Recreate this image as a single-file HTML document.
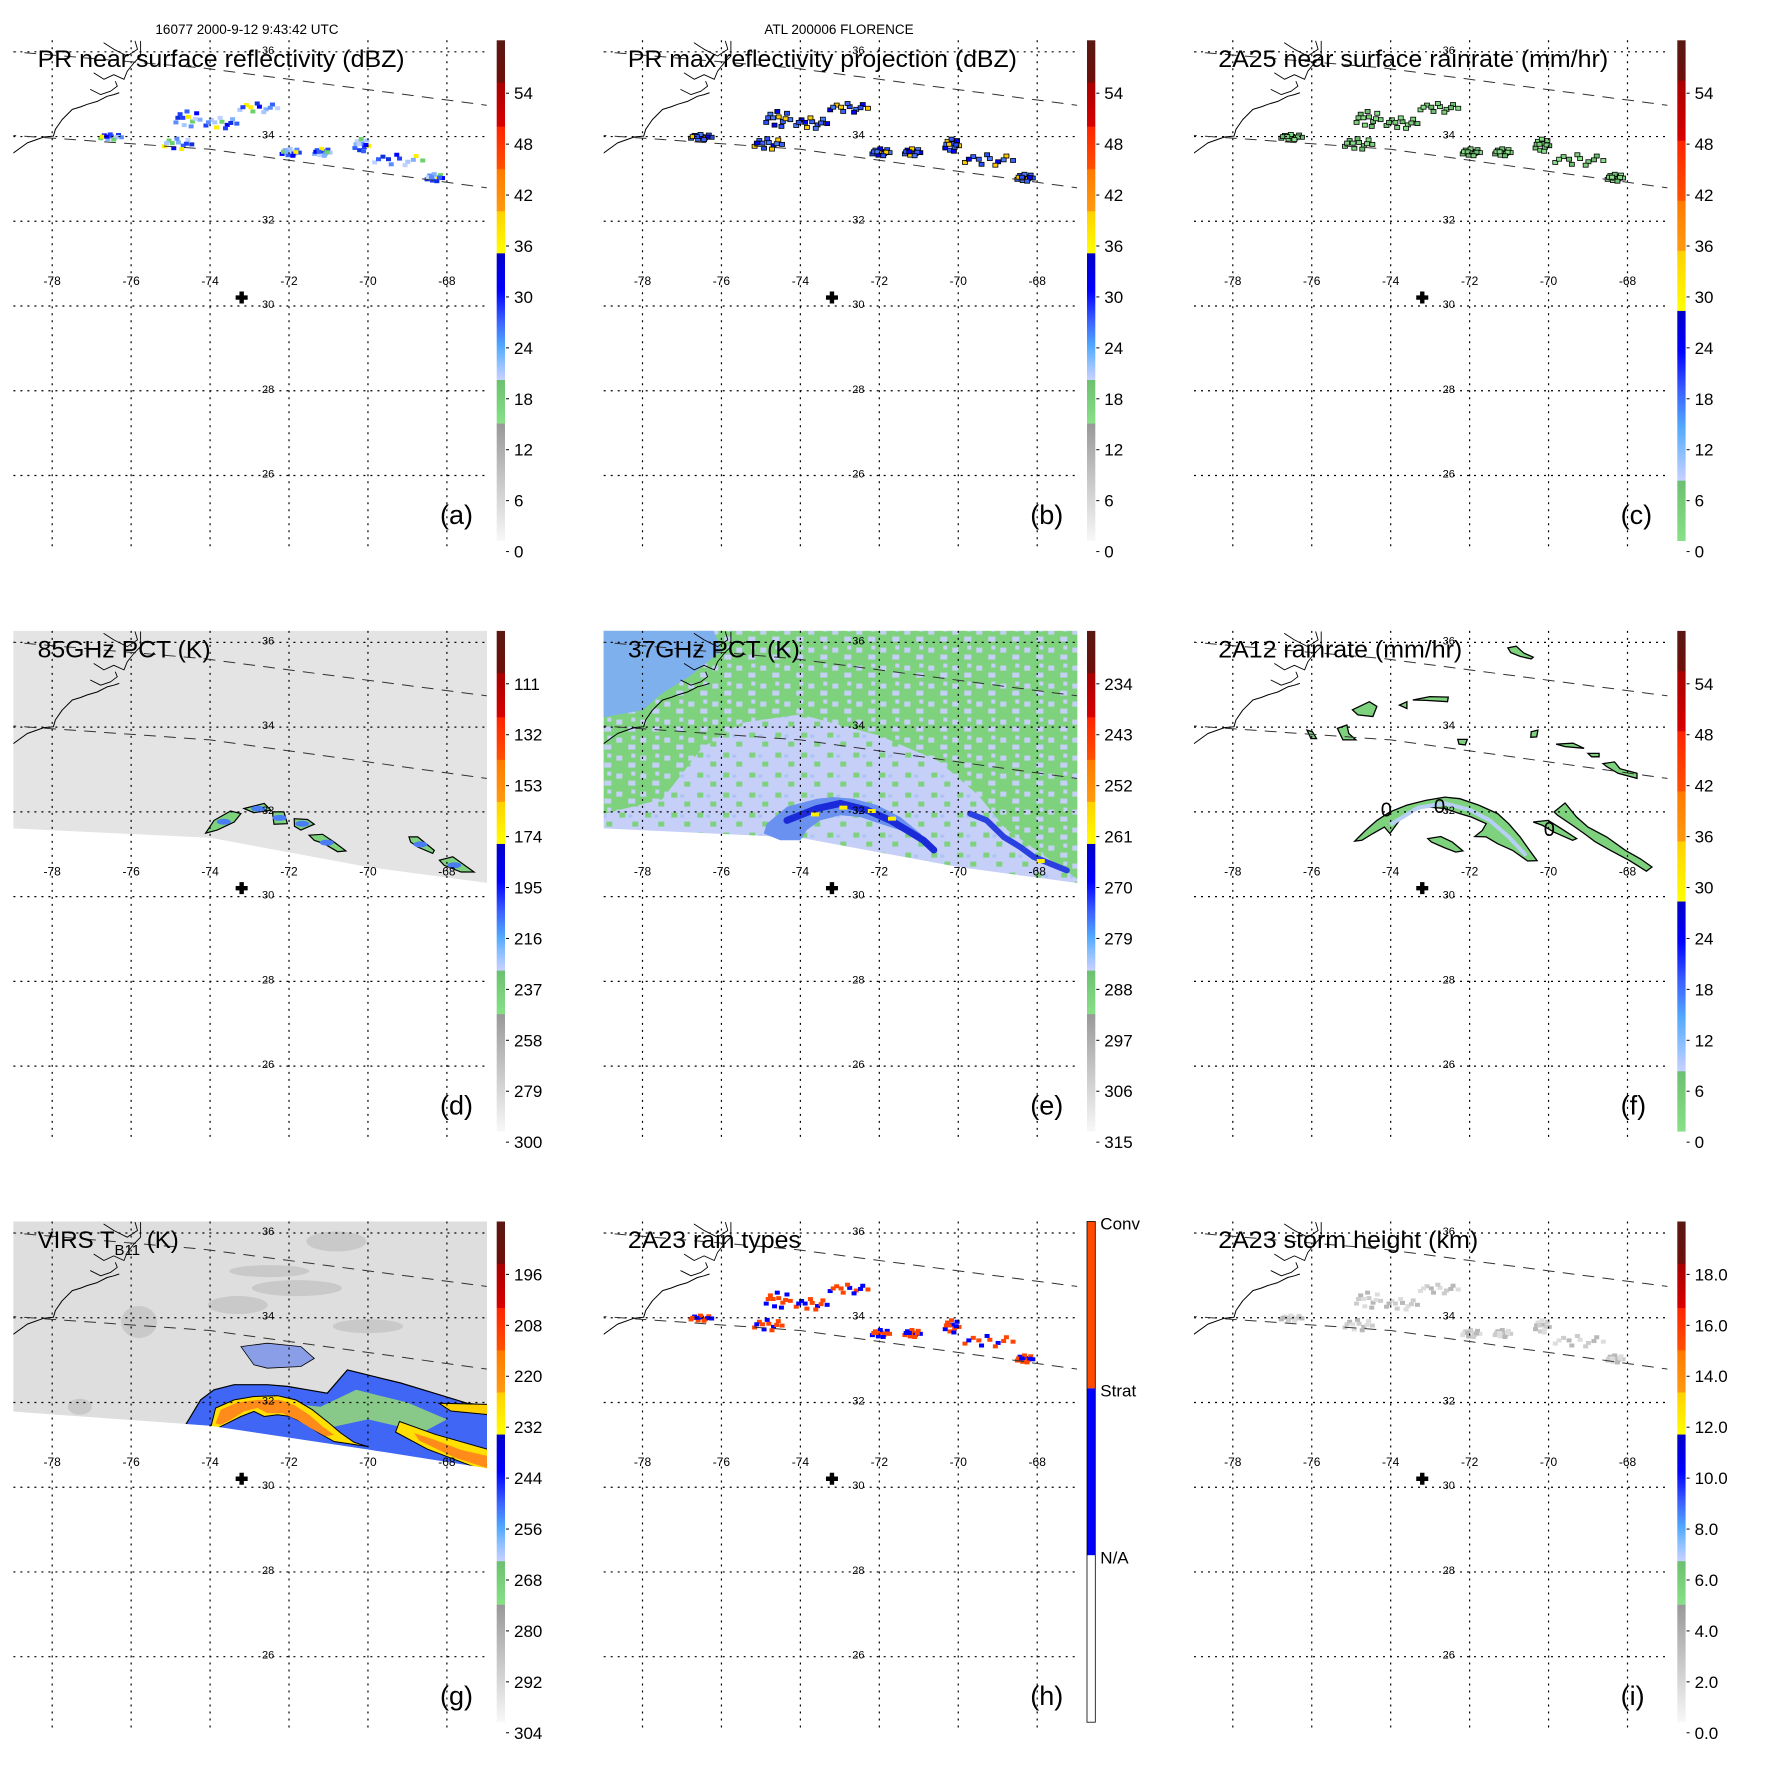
<!DOCTYPE html>
<html><head><meta charset="utf-8">
<style>
html,body{margin:0;padding:0;background:#fff;width:1771px;height:1771px;overflow:hidden;}
svg{display:block;position:absolute;left:0;top:0;font-family:"Liberation Sans",Arial,sans-serif;}
</style></head>
<body>
<svg id="fig" width="1771" height="1771" viewBox="0 0 1771 1771" xmlns="http://www.w3.org/2000/svg">
<defs>
<linearGradient id="cm-std" x1="0" y1="0" x2="0" y2="1">
<stop offset="0" stop-color="#5a1812"/><stop offset="0.084" stop-color="#6e0f0a"/>
<stop offset="0.085" stop-color="#a80000"/><stop offset="0.172" stop-color="#d80000"/>
<stop offset="0.173" stop-color="#ff2400"/><stop offset="0.257" stop-color="#ff5000"/>
<stop offset="0.258" stop-color="#ff7a00"/><stop offset="0.341" stop-color="#ff9a10"/>
<stop offset="0.342" stop-color="#ffd000"/><stop offset="0.425" stop-color="#ffff00"/>
<stop offset="0.426" stop-color="#0000c8"/><stop offset="0.5" stop-color="#0000ff"/>
<stop offset="0.56" stop-color="#3a60ff"/><stop offset="0.61" stop-color="#50a8ff"/>
<stop offset="0.645" stop-color="#90c0ff"/><stop offset="0.678" stop-color="#c8d0ff"/>
<stop offset="0.679" stop-color="#6cc070"/><stop offset="0.765" stop-color="#88e088"/>
<stop offset="0.766" stop-color="#999999"/><stop offset="1" stop-color="#f8f8f8"/>
</linearGradient>
<linearGradient id="cm-rain" x1="0" y1="0" x2="0" y2="1">
<stop offset="0" stop-color="#5a1812"/><stop offset="0.08" stop-color="#6e0f0a"/>
<stop offset="0.081" stop-color="#a80000"/><stop offset="0.2" stop-color="#d80000"/>
<stop offset="0.201" stop-color="#ff2400"/><stop offset="0.32" stop-color="#ff5000"/>
<stop offset="0.321" stop-color="#ff7a00"/><stop offset="0.42" stop-color="#ff9a10"/>
<stop offset="0.421" stop-color="#ffd000"/><stop offset="0.54" stop-color="#ffff00"/>
<stop offset="0.541" stop-color="#0000c8"/><stop offset="0.62" stop-color="#0000ff"/>
<stop offset="0.7" stop-color="#3a60ff"/><stop offset="0.77" stop-color="#50a8ff"/>
<stop offset="0.83" stop-color="#90c0ff"/><stop offset="0.879" stop-color="#c8d0ff"/>
<stop offset="0.88" stop-color="#6cc070"/><stop offset="1" stop-color="#88e088"/>
</linearGradient>
<pattern id="spk-green" width="24" height="18" patternUnits="userSpaceOnUse">
<rect width="24" height="18" fill="#7ed27e"/>
<rect x="2" y="3" width="6" height="5" fill="#c6cff7"/>
<rect x="14" y="10" width="7" height="5" fill="#c6cff7"/>
<rect x="17" y="1" width="4" height="4" fill="#c6cff7"/>
</pattern>
<pattern id="spk-lav" width="26" height="20" patternUnits="userSpaceOnUse">
<rect width="26" height="20" fill="#c6cff7"/>
<rect x="3" y="2" width="6" height="5" fill="#7ed27e"/>
<rect x="16" y="11" width="6" height="5" fill="#7ed27e"/>
<rect x="12" y="4" width="4" height="3" fill="#a9c4f5"/>
</pattern>
<clipPath id="mapclip"><rect x="13.4" y="40.3" width="473.6" height="512"/></clipPath>
</defs>
</svg>
<script>
// ---------- data ----------
const latTicks = [36, 34, 32, 30, 28, 26];
const lonTicks = [-78, -76, -74, -72, -70, -68];
const panelLetters = ['a','b','c','d','e','f','g','h','i'];
const panelTitles = ['PR near surface reflectivity (dBZ)','PR max reflectivity projection (dBZ)','2A25 near surface rainrate (mm/hr)','85GHz PCT (K)','37GHz PCT (K)','2A12 rainrate (mm/hr)','VIRS T','2A23 rain types','2A23 storm height (km)'];
const titleWidths = [367, 389, 390, 173, 172, 244, 145, 173, 260];
const cbarLabels = [
 ['54','48','42','36','30','24','18','12','6','0'],
 ['54','48','42','36','30','24','18','12','6','0'],
 ['54','48','42','36','30','24','18','12','6','0'],
 ['111','132','153','174','195','216','237','258','279','300'],
 ['234','243','252','261','270','279','288','297','306','315'],
 ['54','48','42','36','30','24','18','12','6','0'],
 ['196','208','220','232','244','256','268','280','292','304'],
 [],
 ['18.0','16.0','14.0','12.0','10.0','8.0','6.0','4.0','2.0','0.0']
];
const cbarMaps = ['cm-std','cm-std','cm-rain','cm-std','cm-std','cm-rain','cm-std','types','cm-std'];
const rainTypeLabels = ['Conv','Strat','N/A'];
const rainTypeColors = ['#ff4a00','#0000ff','#ffffff'];
const centerPoint = [-73.2, 30.2];
const swathUpper = [[-79.2,36.02],[-74.2,35.62],[-67,34.74]];
const swathLower = [[-79.2,34.04],[-74,33.70],[-67,32.79]];
const coast = [[-79.0,33.60],[-78.63,33.85],[-78.21,33.99],[-77.97,34.01],[-77.92,34.17],[-77.75,34.40],[-77.49,34.64],[-77.28,34.70],[-77.11,34.76],[-76.86,34.83],[-76.61,34.95],[-76.44,34.99],[-76.31,35.03]];
const sound1 = [[-77.03,35.11],[-76.77,34.99],[-76.52,35.07],[-76.35,35.19],[-76.4,35.3]];
const sound2 = [[-76.94,35.50],[-76.69,35.35],[-76.44,35.46],[-76.18,35.35],[-76.10,35.54],[-75.93,35.74],[-75.76,35.90],[-75.76,36.25]];
const sound3 = [[-76.69,36.21],[-76.44,36.06],[-76.10,35.90],[-75.84,36.06],[-75.9,36.25]];
const clLon = [-74.55,-73.7,-72.75,-74.8,-76.5,-71.95,-71.15,-70.15,-69.2,-68.3];
const clLat = [34.42,34.32,34.68,33.83,33.99,33.63,33.63,33.8,33.45,33.03];
const clW = [0.7,0.9,1.1,0.8,0.6,0.5,0.45,0.4,1.4,0.45];
const clH = [0.43,0.3,0.25,0.3,0.15,0.2,0.2,0.35,0.3,0.2];
const dotOffsets = [[-0.45,-0.2],[-0.3,0.25],[-0.15,-0.35],[0,0.1],[0.15,-0.15],[0.3,0.3],[0.42,-0.05],[-0.05,0.4],[0.25,0],[-0.38,0.05],[0.1,-0.42],[-0.2,0.05]];
const swathBottomDE = [[-79.2,31.62],[-74,31.39],[-70,30.70],[-66.8,30.30]];
const swathBottomG = [[-79.2,31.80],[-74,31.45],[-72,31.17],[-70,30.89],[-66.8,30.42]];
const blobs85 = [
 [[-74.11,31.50],[-73.90,31.80],[-73.48,32.02],[-73.22,31.96],[-73.39,31.76],[-73.82,31.57]],
 [[-73.14,32.08],[-72.63,32.20],[-72.46,32.04],[-72.89,31.98]],
 [[-72.42,32.0],[-72.13,32.0],[-72.04,31.72],[-72.38,31.71]],
 [[-71.87,31.84],[-71.53,31.82],[-71.36,31.71],[-71.70,31.57],[-71.86,31.66]],
 [[-71.49,31.45],[-71.15,31.47],[-70.86,31.29],[-70.56,31.08],[-70.77,31.06],[-71.11,31.25],[-71.36,31.33]],
 [[-68.96,31.41],[-68.74,31.41],[-68.32,31.09],[-68.36,31.02],[-68.74,31.17],[-68.92,31.29]],
 [[-68.19,30.86],[-67.85,30.94],[-67.31,30.58],[-67.64,30.58],[-68.07,30.74]]
];
const green37 = [[-79.2,37],[-66.8,37],[-66.8,30.3],[-68.8,31.6],[-69.5,32.4],[-70.5,33.2],[-72,33.8],[-74,34.3],[-75.5,34.1],[-76.5,33.5],[-77.5,32.3],[-79.2,31.9]];
const blueTL37 = [[-79.2,37],[-76.5,37],[-76.0,35.8],[-76.8,35.2],[-77.5,34.8],[-78.0,34.4],[-79.2,34.2]];
const halo37 = [[-74.85,31.72],[-74.34,32.12],[-73.58,32.31],[-73.16,32.35],[-72.65,32.31],[-72.06,32.16],[-71.47,31.88],[-70.96,31.49],[-70.54,31.02],[-70.37,30.86],[-70.54,31.02],[-70.96,31.41],[-71.98,31.72],[-72.48,31.88],[-72.99,31.92],[-73.50,31.80],[-73.84,31.57],[-74.0,31.33],[-74.51,31.33],[-74.93,31.49]];
const core37 = [[-74.34,31.80],[-73.58,32.08],[-72.99,32.2],[-72.31,32.04],[-71.72,31.80],[-71.30,31.57],[-70.88,31.33],[-70.62,31.10]];
const arc37b = [[-69.70,31.96],[-69.28,31.80],[-68.85,31.41],[-68.43,31.17],[-68.09,30.94],[-67.67,30.78],[-67.25,30.62]];
const yellow37 = [[-73.63,31.94],[-72.91,32.10],[-72.19,32.02],[-71.68,31.84],[-67.91,30.84]];
const rain12 = [
 [[-74.91,31.31],[-74.64,31.56],[-74.35,31.80],[-74.02,32.00],[-73.59,32.16],[-73.11,32.27],[-72.63,32.35],[-72.25,32.31],[-71.77,32.16],[-71.29,31.96],[-71.01,31.72],[-70.72,31.41],[-70.48,31.09],[-70.29,30.85],[-70.53,30.84],[-70.91,31.09],[-71.29,31.25],[-71.58,31.41],[-71.87,31.42],[-71.68,31.56],[-71.58,31.72],[-71.96,31.88],[-72.25,31.96],[-72.63,32.08],[-73.11,32.12],[-73.40,32.04],[-73.78,31.80],[-74.02,31.49],[-74.16,31.64],[-74.45,31.49],[-74.73,31.33]],
 [[-73.06,31.37],[-72.73,31.42],[-72.44,31.29],[-72.17,31.08],[-72.35,31.05],[-72.63,31.15],[-72.97,31.29]],
 [[-69.86,32.0],[-69.58,32.21],[-69.29,31.88],[-69.0,31.64],[-68.53,31.41],[-68.05,31.09],[-67.67,30.89],[-67.38,30.70],[-67.52,30.60],[-67.95,30.85],[-68.43,31.09],[-68.81,31.29],[-69.10,31.49],[-69.39,31.68],[-69.77,31.92]],
 [[-70.39,31.76],[-70.01,31.80],[-69.67,31.60],[-69.29,31.37],[-69.39,31.33],[-69.86,31.52],[-70.15,31.68]],
 [[-71.03,35.87],[-70.82,35.91],[-70.63,35.75],[-70.39,35.65],[-70.44,35.61],[-70.72,35.67],[-70.96,35.76]],
 [[-74.97,34.41],[-74.54,34.60],[-74.35,34.49],[-74.45,34.25],[-74.83,34.29]],
 [[-73.44,34.64],[-73.01,34.72],[-72.54,34.71],[-72.56,34.60],[-73.11,34.63]],
 [[-73.78,34.52],[-73.59,34.60],[-73.59,34.44]],
 [[-75.35,33.97],[-75.11,34.05],[-75.06,33.85],[-74.88,33.70],[-75.21,33.70]],
 [[-76.12,33.93],[-75.98,33.89],[-75.88,33.73],[-76.02,33.73]],
 [[-72.30,33.71],[-72.06,33.71],[-72.11,33.58],[-72.27,33.60]],
 [[-70.44,33.89],[-70.27,33.93],[-70.30,33.77],[-70.45,33.76]],
 [[-69.81,33.60],[-69.38,33.62],[-69.10,33.50],[-69.58,33.54]],
 [[-69.0,33.38],[-68.72,33.38],[-68.72,33.30],[-68.91,33.30]],
 [[-68.62,33.14],[-68.33,33.18],[-68.19,33.02],[-67.76,32.91],[-67.76,32.79],[-68.24,32.91],[-68.53,33.07]]
];
const rain12Core = [[-73.97,31.72],[-73.3,32.1],[-72.63,32.2],[-72.0,32.05],[-71.49,31.8],[-71.0,31.4],[-70.6,31.0]];
const rain12Zero = [[-74.11,32.06],[-72.76,32.14],[-69.98,31.60]];
const virsBlue = [[-74.62,31.47],[-74.24,32.06],[-73.90,32.30],[-73.39,32.42],[-72.55,32.42],[-72.04,32.38],[-71.53,32.30],[-71.03,32.22],[-70.52,32.77],[-69.84,32.61],[-69.17,32.46],[-68.32,32.22],[-67.48,31.98],[-66.8,31.91],[-66.8,30.2],[-74.62,30.2]];
const virsScatter = [[-73.22,33.32],[-72.55,33.40],[-71.70,33.32],[-71.36,33.04],[-71.70,32.85],[-72.55,32.81],[-72.89,32.89]];
const virsGreen = [[-72.3,32.0],[-71.2,31.9],[-70.3,32.3],[-69.0,32.0],[-68.0,31.6],[-68.6,31.3],[-70.0,31.6],[-71.0,31.4]];
const virsYellow = [[-73.98,31.42],[-73.86,31.87],[-73.39,32.06],[-72.89,32.14],[-72.29,32.16],[-71.83,32.06],[-71.41,31.83],[-70.98,31.51],[-70.69,31.28],[-70.35,31.06],[-70.01,30.96],[-70.86,31.08],[-71.24,31.28],[-71.62,31.51],[-71.96,31.67],[-72.29,31.71],[-72.63,31.67],[-72.89,31.79],[-73.22,31.67],[-73.56,31.51],[-73.82,31.39]];
const virsOrange = [[-73.86,31.51],[-73.73,31.83],[-73.31,32.0],[-72.80,32.06],[-72.25,32.06],[-71.87,31.94],[-71.49,31.71],[-71.15,31.43],[-70.86,31.24],[-71.07,31.20],[-71.45,31.39],[-71.79,31.59],[-72.17,31.75],[-72.55,31.75],[-72.80,31.87],[-73.14,31.79],[-73.48,31.59],[-73.73,31.47]];
const virsYellowR = [[-69.2,31.55],[-68.3,31.25],[-66.8,30.85],[-66.8,30.3],[-68.5,30.9],[-69.3,31.3]];
const virsOrangeR = [[-68.83,31.28],[-68.32,31.12],[-67.64,30.88],[-66.8,30.7],[-66.8,30.4],[-67.8,30.7],[-68.7,31.1]];
const virsYellowTop = [[-68.2,31.98],[-66.8,31.95],[-66.8,31.7],[-67.9,31.8]];
const virsCloudLon = [-70.8,-71.8,-73.3,-75.8,-77.3,-70.0,-72.5];
const virsCloudLat = [35.8,34.7,34.3,33.9,31.9,33.8,35.1];
const virsCloudRx = [30,45,30,18,12,35,40];
const virsCloudRy = [10,8,9,16,8,7,6];

// ---------- helpers ----------
const NS = 'http://www.w3.org/2000/svg';
const svg = document.getElementById('fig');
const PX = lon => 52.2 + (lon + 78) * 39.47;
const PY = lat => 51.8 + (36 - lat) * 42.37;
const pts = arr => arr.map(p => PX(p[0]).toFixed(1) + ',' + PY(p[1]).toFixed(1)).join(' ');
function mk(tag, attrs, parent) {
  const el = document.createElementNS(NS, tag);
  for (const k in attrs) el.setAttribute(k, attrs[k]);
  parent.appendChild(el);
  return el;
}
function swathPoly(bottom) {
  const top = [[-79.2, 37], [-66.8, 37]];
  return top.concat(bottom.slice().reverse());
}

let hdr = mk('text', {x: 247, y: 34, 'font-size': 13.5, 'text-anchor': 'middle'}, svg);


hdr.textContent = '16077 2000-9-12 9:43:42 UTC';
let hdr2 = mk('text', {x: 839, y: 34, 'font-size': 13.5, 'text-anchor': 'middle'}, svg);


hdr2.textContent = 'ATL 200006 FLORENCE';

function drawClusters(g, style) {
  for (let c = 0; c < clLon.length; c++) {
    for (let k = 0; k < dotOffsets.length; k++) {
      const lon = clLon[c] + dotOffsets[k][0] * clW[c];
      const lat = clLat[c] + dotOffsets[k][1] * clH[c];
      const r = mk('rect', {x: PX(lon) - 2.5, y: PY(lat) - 2, width: 5, height: 4, fill: style.colors[(c + k) % style.colors.length]}, g);
      if (style.stroke) { r.setAttribute('stroke', style.stroke); r.setAttribute('stroke-width', '0.8'); }
      
      
    }
  }
}
function poly(g, arr, fill, stroke, sw, name) {
  const p = mk('polygon', {points: pts(arr), fill: fill, stroke: stroke || 'none', 'stroke-width': sw || 0}, g);
  
  
  return p;
}
function line(g, arr, stroke, sw, dash, name) {
  const p = mk('polyline', {points: pts(arr), fill: 'none', stroke: stroke, 'stroke-width': sw}, g);
  if (dash) p.setAttribute('stroke-dasharray', dash);
  p.setAttribute('stroke-linejoin', 'round');
  p.setAttribute('stroke-linecap', 'round');
  
  
  return p;
}

for (let i = 0; i < 9; i++) {
  const col = i % 3, row = Math.floor(i / 3);
  const g = mk('g', {transform: 'translate(' + (col * 590.3).toFixed(1) + ',' + (row * 590.6).toFixed(1) + ')'}, svg);
  
  

  const m = mk('g', {'clip-path': 'url(#mapclip)'}, g);
  
  

  if (i === 3) {
    poly(m, swathPoly(swathBottomDE), '#e4e4e4', null, 0, 'tmi-swath');
    for (const b of blobs85) poly(m, b, '#7ed27e', '#000', 1.2, 'ice-scattering-blob');
    for (const b of blobs85) {
      const c = b.reduce((a, p) => [a[0] + p[0] / b.length, a[1] + p[1] / b.length], [0, 0]);
      const e = mk('ellipse', {cx: PX(c[0]), cy: PY(c[1]), rx: 7, ry: 3, fill: '#4a7cf5'}, m);
      
      
    }
  } else if (i === 4) {
    poly(m, swathPoly(swathBottomDE), 'url(#spk-lav)', null, 0, 'tmi-swath');
    poly(m, green37, 'url(#spk-green)', null, 0, 'warm-ocean-region');
    poly(m, blueTL37, '#7fb0ee', null, 0, 'land-region');
    poly(m, halo37, '#6a90f0', null, 0, 'rain-halo');
    line(m, core37, '#1a2ad8', 7, null, 'rain-core');
    line(m, arc37b, '#2a40e0', 6, null, 'rain-core-east');
    for (const y of yellow37) {
      const r = mk('rect', {x: PX(y[0]) - 4, y: PY(y[1]) - 2, width: 8, height: 4, fill: '#ffee00'}, m);
      
      
    }
  } else if (i === 5) {
    for (const b of rain12) poly(m, b, '#7ed27e', '#000', 1.3, 'rain-area');
    line(m, rain12Core, '#b8cff5', 4, null, 'rain-area-core');
    for (const z of rain12Zero) {
      const t = mk('text', {x: PX(z[0]), y: PY(z[1]) + 7, 'font-size': 20, 'text-anchor': 'middle'}, m);
      
      
      t.textContent = '0';
    }
  } else if (i === 6) {
    poly(m, swathPoly(swathBottomG), '#dedede', null, 0, 'virs-swath');
    for (let k = 0; k < virsCloudLon.length; k++) {
      const e = mk('ellipse', {cx: PX(virsCloudLon[k]), cy: PY(virsCloudLat[k]), rx: virsCloudRx[k], ry: virsCloudRy[k], fill: '#b4b4b4', opacity: 0.5}, m);
      
      
    }
    poly(m, virsScatter, '#8a9ee8', '#000', 0.8, 'scattered-cloud-tops');
    poly(m, virsBlue, '#3f66f5', '#000', 1.2, 'cold-cloud-region');
    poly(m, virsGreen, '#88c888', null, 0, 'cloud-edge');
    poly(m, virsYellow, '#ffe000', '#000', 1, 'cold-band');
    poly(m, virsOrange, '#ff8c1a', null, 0, 'coldest-band');
    poly(m, virsYellowR, '#ffe000', '#000', 1, 'cold-band-east');
    poly(m, virsOrangeR, '#ff8c1a', null, 0, 'coldest-band-east');
    poly(m, virsYellowTop, '#ffd000', '#000', 1, 'cold-band-north');
    const below = swathBottomG.concat([[-66.8, 20], [-79.2, 20]]);
    poly(m, below, '#fff', null, 0, 'outside-swath');
  } else {
    const styles = [
      {colors: ['#5a8cff','#2040ff','#a8c8ff','#ffee00','#6cd06c','#0000ff','#80b0ff','#3060ff','#c0d0ff','#1030e0']},
      {colors: ['#2a50ff','#4a7cff','#0000ff','#ffcc00','#3a60ff'], stroke: '#000'},
      {colors: ['#7ed27e','#6cc070','#88e088'], stroke: '#000'},
      null, null, null, null,
      {colors: ['#0000ff','#ff4500','#0000ff','#ff4500','#ff4500']},
      {colors: ['#cccccc','#b8b8b8','#dddddd']}
    ];
    drawClusters(m, styles[i]);
  }

  for (const lat of latTicks) {
    const l = mk('line', {x1: 13.4, x2: 487, y1: PY(lat), y2: PY(lat), stroke: '#000', 'stroke-width': 1.2, 'stroke-dasharray': '2,5'}, g);
    
    
    const t = mk('text', {x: 262, y: PY(lat) + 2, 'font-size': 11}, g);
    
    
    t.textContent = String(lat);
  }
  for (const lon of lonTicks) {
    const l = mk('line', {x1: PX(lon), x2: PX(lon), y1: 40.3, y2: 549, stroke: '#000', 'stroke-width': 1.2, 'stroke-dasharray': '2,5'}, g);
    
    
    const t = mk('text', {x: PX(lon), y: 285, 'font-size': 12, 'text-anchor': 'middle'}, g);
    
    
    t.textContent = String(lon);
  }
  const mapLines = mk('g', {'clip-path': 'url(#mapclip)'}, g);
  
  
  line(mapLines, swathUpper, '#333', 1, '11,9', 'pr-swath-edge-north');
  line(mapLines, swathLower, '#333', 1, '11,9', 'pr-swath-edge-south');
  line(mapLines, coast, '#000', 1, null, 'coastline');
  line(mapLines, sound1, '#000', 0.9, null, 'coastline-sound');
  line(mapLines, sound2, '#000', 0.9, null, 'coastline-banks');
  line(mapLines, sound3, '#000', 0.9, null, 'coastline-north');

  const cx = PX(centerPoint[0]), cy = PY(centerPoint[1]);
  const plus = mk('path', {d: 'M' + (cx - 6) + ' ' + (cy - 2.2) + 'h12v4.4h-12z M' + (cx - 2.2) + ' ' + (cy - 6) + 'h4.4v12h-4.4z', fill: '#000'}, g);
  
  

  const tt = mk('text', {x: 37.6, y: 67, 'font-size': 24, textLength: titleWidths[i], lengthAdjust: 'spacingAndGlyphs'}, g);
  
  
  if (i === 6) {
    tt.removeAttribute('textLength');
    tt.textContent = panelTitles[i];
    const sub = mk('tspan', {'font-size': 15, dy: 7}, tt);
    sub.textContent = 'B11';
    const rest = mk('tspan', {dy: -7}, tt);
    rest.textContent = ' (K)';
  } else {
    tt.textContent = panelTitles[i];
  }
  const lt = mk('text', {x: 440, y: 524, 'font-size': 27}, g);
  
  
  lt.textContent = '(' + panelLetters[i] + ')';

  if (cbarMaps[i] === 'types') {
    const bh = (541 - 40.3) / 3;
    for (let k = 0; k < 3; k++) {
      const r = mk('rect', {x: 496.7, y: 40.3 + k * bh, width: 8.3, height: bh, fill: rainTypeColors[k]}, g);
      
      
      const t = mk('text', {x: 510, y: 40.3 + k * bh + 8, 'font-size': 17}, g);
      
      
      t.textContent = rainTypeLabels[k];
    }
    const ob = mk('rect', {x: 496.7, y: 40.3, width: 8.3, height: 500.7, fill: 'none', stroke: '#000', 'stroke-width': 0.8}, g);
    
    
  } else {
    const r = mk('rect', {x: 496.7, y: 40.3, width: 8.3, height: 500.7, fill: 'url(#' + cbarMaps[i] + ')'}, g);
    
    
    const labs = cbarLabels[i];
    for (let k = 0; k < labs.length; k++) {
      const yc = 93.2 + 50.93 * k;
      const tk = mk('line', {x1: 506, x2: 509, y1: yc, y2: yc, stroke: '#000', 'stroke-width': 1}, g);
      
      
      const t = mk('text', {x: 514, y: yc + 6, 'font-size': 17}, g);
      
      
      t.textContent = labs[k];
    }
  }
}
</script>
</body></html>
